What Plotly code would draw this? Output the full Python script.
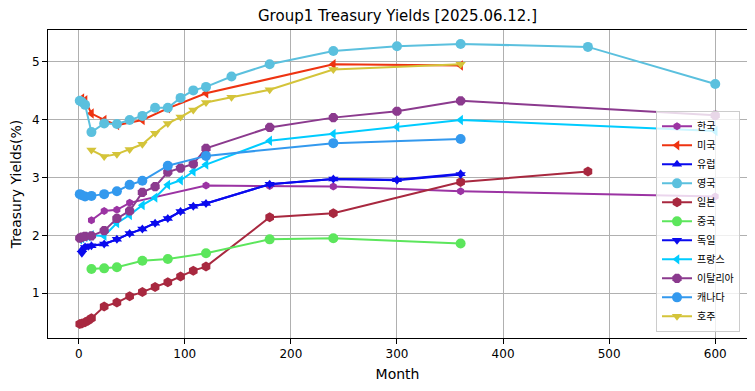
import plotly.graph_objects as go

# ---- data (months, yields %) ----
kr_m = [12, 24, 36, 48, 120, 180, 240, 360, 600]
kr_y = [2.26, 2.42, 2.44, 2.56, 2.86, 2.85, 2.84, 2.76, 2.67]

us_m = [1, 3, 6, 12, 24, 36, 60, 84, 120, 240, 360]
us_y = [4.30, 4.36, 4.33, 4.10, 3.99, 3.90, 3.99, 4.19, 4.45, 4.95, 4.93]

eu_m = [3, 6, 12, 24, 36, 48, 60, 72, 84, 96, 108, 120, 180, 240, 300, 360]
eu_y = [1.75, 1.80, 1.82, 1.85, 1.93, 2.03, 2.11, 2.21, 2.29, 2.41, 2.50, 2.55, 2.88, 2.97, 2.96, 3.06]

uk_m = [1, 3, 6, 12, 24, 36, 48, 60, 72, 84, 96, 108, 120, 144, 180, 240, 300, 360, 480, 600]
uk_y = [4.32, 4.30, 4.25, 3.78, 3.93, 3.92, 3.99, 4.06, 4.20, 4.20, 4.37, 4.50, 4.56, 4.74, 4.95, 5.18, 5.26, 5.30, 5.25, 4.61]

jp_m = [1, 3, 6, 9, 12, 24, 36, 48, 60, 72, 84, 96, 108, 120, 180, 240, 360, 480]
jp_y = [0.47, 0.48, 0.50, 0.53, 0.57, 0.77, 0.84, 0.95, 1.02, 1.11, 1.19, 1.29, 1.39, 1.46, 2.31, 2.38, 2.92, 3.10]

cn_m = [12, 24, 36, 60, 84, 120, 180, 240, 360]
cn_y = [1.42, 1.43, 1.45, 1.56, 1.59, 1.69, 1.93, 1.95, 1.86]

de_m = [3, 6, 9, 12, 24, 36, 48, 60, 72, 84, 96, 108, 120, 180, 240, 300, 360]
de_y = [1.69, 1.79, 1.81, 1.82, 1.85, 1.93, 2.03, 2.11, 2.21, 2.29, 2.41, 2.50, 2.55, 2.88, 2.97, 2.95, 3.05]

fr_m = [1, 3, 6, 9, 12, 24, 36, 48, 60, 72, 84, 96, 108, 120, 180, 240, 300, 360, 600]
fr_y = [1.93, 1.95, 1.97, 1.98, 2.00, 1.99, 2.21, 2.35, 2.52, 2.65, 2.87, 2.95, 3.10, 3.22, 3.63, 3.75, 3.87, 3.99, 3.80]

it_m = [1, 3, 6, 12, 24, 36, 48, 60, 72, 84, 96, 108, 120, 180, 240, 300, 360, 600]
it_y = [1.95, 1.97, 1.98, 1.99, 2.08, 2.29, 2.42, 2.74, 2.84, 3.09, 3.16, 3.23, 3.50, 3.86, 4.03, 4.14, 4.32, 4.07]

ca_m = [1, 3, 6, 12, 24, 36, 48, 60, 84, 120, 240, 360]
ca_y = [2.71, 2.69, 2.67, 2.68, 2.71, 2.76, 2.87, 2.94, 3.20, 3.37, 3.59, 3.66]

au_m = [12, 24, 36, 48, 60, 72, 84, 96, 108, 120, 144, 180, 240, 360]
au_y = [3.47, 3.36, 3.40, 3.48, 3.57, 3.76, 3.93, 4.04, 4.16, 4.29, 4.38, 4.51, 4.86, 4.95]

title = "Group1 Treasury Yields [2025.06.12.]"
x_label = "Month"
y_label = "Treasury Yields(%)"
x_ticks = [0, 100, 200, 300, 400, 500, 600]
y_ticks = [1, 2, 3, 4, 5]

series = [
    ("한국", kr_m, kr_y, "#9B33A3", "hexagon", 8),
    ("미국", us_m, us_y, "#EE3311", "triangle-left", 9),
    ("유럽", eu_m, eu_y, "#0A0AEE", "triangle-up", 9),
    ("영국", uk_m, uk_y, "#5BC0DE", "circle", 10),
    ("일본", jp_m, jp_y, "#A8283F", "hexagon", 10),
    ("중국", cn_m, cn_y, "#5CE65C", "circle", 10),
    ("독일", de_m, de_y, "#0A0AEE", "triangle-down", 9),
    ("프랑스", fr_m, fr_y, "#00CCFF", "triangle-left", 9),
    ("이탈리아", it_m, it_y, "#8B3A8E", "octagon", 10),
    ("캐나다", ca_m, ca_y, "#3399EE", "circle", 10),
    ("호주", au_m, au_y, "#D4C43A", "triangle-down", 9),
]

fig = go.Figure()
for name, xs, ys, col, sym, sz in series:
    fig.add_trace(go.Scatter(
        x=xs, y=ys, name=name, mode="lines+markers",
        line=dict(color=col, width=2),
        marker=dict(color=col, symbol=sym, size=sz, line=dict(width=0)),
    ))

all_x = [v for s in series for v in s[1]]
all_y = [v for s in series for v in s[2]]
xspan = max(all_x) - min(all_x)
yspan = max(all_y) - min(all_y)

# page body has an 8px margin; figure sized/margined so the plot lands in place
W, H = 747, 383
L, R, T, B = 40, 8, 22, 53
font_fam = "DejaVu Sans, Noto Sans CJK KR, sans-serif"
fig.update_layout(
    width=W, height=H,
    margin=dict(l=L, r=R, t=T, b=B, autoexpand=False),
    paper_bgcolor="white", plot_bgcolor="white",
    font=dict(family=font_fam, size=12, color="black"),
    title=dict(text=title, x=(L + (W - L - R) / 2) / W, xanchor="center",
               y=1 - 8 / H, yanchor="middle", font=dict(size=15)),
    showlegend=True,
    legend=dict(x=0.99, xanchor="right", y=0.02, yanchor="bottom",
                bgcolor="rgba(255,255,255,0.8)", bordercolor="#cccccc",
                borderwidth=1, font=dict(size=10, family=font_fam),
                tracegroupgap=0, itemwidth=30),
)
fig.update_xaxes(
    range=[min(all_x) - 0.05 * xspan, max(all_x) + 0.05 * xspan],
    tickvals=x_ticks, ticks="outside", ticklen=5, tickcolor="black",
    showgrid=True, gridcolor="#b0b0b0", gridwidth=1,
    showline=True, linecolor="black", linewidth=1, mirror=True,
    zeroline=False, automargin=False, title=dict(text=x_label, standoff=8),
)
fig.update_yaxes(
    range=[min(all_y) - 0.05 * yspan, max(all_y) + 0.05 * yspan],
    tickvals=y_ticks, ticks="outside", ticklen=5, tickcolor="black",
    showgrid=True, gridcolor="#b0b0b0", gridwidth=1,
    showline=True, linecolor="black", linewidth=1, mirror=True,
    zeroline=False, automargin=False, title=dict(text=y_label, standoff=7),
)

fig.write_html("out.html")
